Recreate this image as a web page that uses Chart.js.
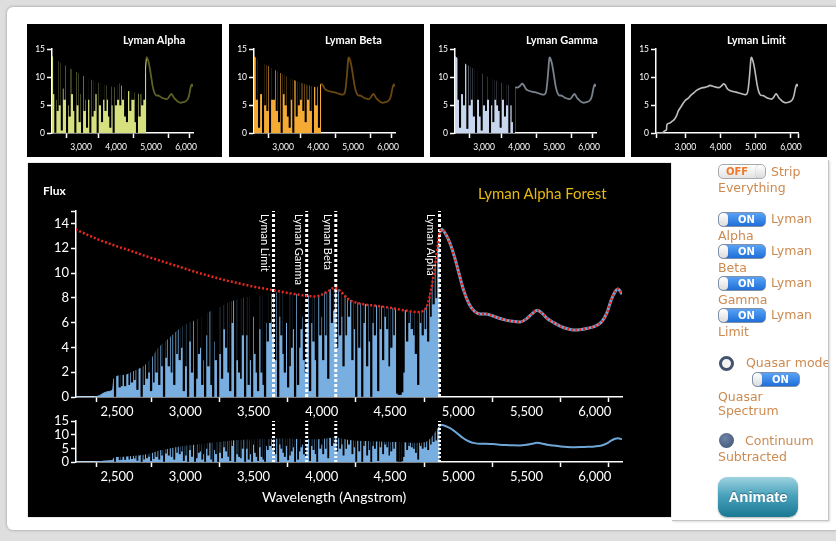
<!DOCTYPE html>
<html>
<head>
<meta charset="utf-8">
<script src="https://cdn.jsdelivr.net/npm/chart.js@4.4.0/dist/chart.umd.min.js"></script>
<style>
  body { margin: 0; width: 836px; height: 541px; overflow: hidden; position: relative; background: #dedede; font-family: Lato, sans-serif; }
  #card { position: absolute; left: 7px; top: 7px; width: 840px; height: 523px; background: #fff; border-radius: 6px; box-shadow: 0 0 3px rgba(0,0,0,.35); }
  .panel { position: absolute; background: #000; }
  .panel canvas { position: absolute; left: 0; }
  .ptitle { position: absolute; left: 96px; top: 8px; color: #fff; font: bold 11px Lato; line-height: 16px; white-space: nowrap; }
  .txt { position: absolute; white-space: nowrap; }
  #side { position: absolute; left: 672px; top: 160px; width: 156px; height: 360px; border-right: 1px solid #c4c4c4; border-bottom: 1px solid #c4c4c4; box-shadow: 1px 1px 2px rgba(0,0,0,.15); overflow: hidden; background: #fff; }
  .lbl { position: absolute; color: #cc8a50; font: 12.5px "DejaVu Sans"; line-height: 16px; white-space: nowrap; }
  .tg { position: absolute; width: 46px; height: 13px; border-radius: 5px; border: 1px solid #8090a8; overflow: hidden; }
  .tg.on { background: linear-gradient(#58a2f7, #1f6fd8); }
  .tg.off { background: linear-gradient(#ffffff, #e2e2e2); border-color: #a8a8a8; }
  .tg .k { position: absolute; top: 0; width: 9px; height: 13px; border-radius: 4px; background: linear-gradient(#ffffff, #dcdcdc); box-shadow: 0 0 1px #666; }
  .tg.on .k { left: 0; }
  .tg.off .k { right: 0; }
  .tg .t { position: absolute; top: 0; font: bold 10px "DejaVu Sans"; line-height: 13px; }
  .tg.on .t { left: 19px; color: #fff; }
  .tg.off .t { left: 7px; color: #f07828; }
  .radio { position: absolute; border-radius: 50%; box-sizing: border-box; }
  #animate { position: absolute; left: 46px; top: 317px; width: 80px; height: 40px; border-radius: 9px; background: linear-gradient(#9fd3e0, #4aa3bd 45%, #1a7893); color: #fff; font: bold 15px "Liberation Sans"; line-height: 40px; text-align: center; text-shadow: 0 -1px 1px rgba(0,0,0,.35); box-shadow: 0 1px 2px rgba(0,0,0,.3); }
</style>
</head>
<body>
<div id="card"></div>

<div class="panel" style="left:27px;top:24px;width:195px;height:133px"><canvas id="pAlpha" width="195" height="133"></canvas><div class="ptitle">Lyman Alpha</div></div>
<div class="panel" style="left:229px;top:24px;width:195px;height:133px"><canvas id="pBeta" width="195" height="133"></canvas><div class="ptitle">Lyman Beta</div></div>
<div class="panel" style="left:430px;top:24px;width:195px;height:133px"><canvas id="pGamma" width="195" height="133"></canvas><div class="ptitle">Lyman Gamma</div></div>
<div class="panel" style="left:631px;top:24px;width:196px;height:133px"><canvas id="pLimit" width="196" height="133"></canvas><div class="ptitle">Lyman Limit</div></div>

<div class="panel" style="left:28px;top:163px;width:643px;height:354px;box-shadow:0 0 1px #888">
  <canvas id="mainChart" width="643" height="260" style="top:0"></canvas>
  <canvas id="ctxChart" width="643" height="85" style="top:242px"></canvas>
  <div class="txt" style="left:15px;top:20px;color:#fff;font:bold 12px Lato;line-height:16px">Flux</div>
  <div class="txt" style="left:450px;top:21px;color:#e8b90e;font:15px Lato;line-height:18px">Lyman Alpha Forest</div>
  <div class="txt" style="left:234px;top:325px;color:#fff;font:14px Lato;line-height:18px">Wavelength (Angstrom)</div>
</div>

<div id="side">
  <div class="tg off" style="left:46px;top:4px"><span class="t">OFF</span><span class="k"></span></div>
  <div class="lbl" style="left:99px;top:4px">Strip</div>
  <div class="lbl" style="left:46px;top:20px">Everything</div>

  <div class="tg on" style="left:46px;top:52px"><span class="k"></span><span class="t">ON</span></div>
  <div class="lbl" style="left:99px;top:51px">Lyman</div>
  <div class="lbl" style="left:46px;top:68px">Alpha</div>
  <div class="tg on" style="left:46px;top:84px"><span class="k"></span><span class="t">ON</span></div>
  <div class="lbl" style="left:99px;top:83px">Lyman</div>
  <div class="lbl" style="left:46px;top:100px">Beta</div>
  <div class="tg on" style="left:46px;top:116px"><span class="k"></span><span class="t">ON</span></div>
  <div class="lbl" style="left:99px;top:115px">Lyman</div>
  <div class="lbl" style="left:46px;top:132px">Gamma</div>
  <div class="tg on" style="left:46px;top:148px"><span class="k"></span><span class="t">ON</span></div>
  <div class="lbl" style="left:99px;top:147px">Lyman</div>
  <div class="lbl" style="left:46px;top:164px">Limit</div>

  <div class="radio" style="left:47px;top:196px;width:15px;height:15px;border:3px solid #42546d;background:#f4f4f4"></div>
  <div class="lbl" style="left:74px;top:195px">Quasar mode</div>
  <div class="tg on" style="left:80px;top:212px"><span class="k"></span><span class="t">ON</span></div>
  <div class="lbl" style="left:46px;top:229px">Quasar</div>
  <div class="lbl" style="left:46px;top:243px">Spectrum</div>

  <div class="radio" style="left:47px;top:273px;width:15px;height:15px;background:radial-gradient(circle at 40% 35%, #6e84a6, #3d5070)"></div>
  <div class="lbl" style="left:73px;top:273px">Continuum</div>
  <div class="lbl" style="left:46px;top:289px">Subtracted</div>

  <div id="animate">Animate</div>
</div>

<script>
// intrinsic quasar continuum (red dotted line), wavelength in Angstrom
const contWave = [2170, 2200, 2300, 2400, 2500, 2600, 2700, 2800, 2900, 3000, 3100, 3200, 3300, 3400, 3500, 3600, 3700, 3800, 3900, 3950,
  4000, 4050, 4090, 4130, 4200, 4300, 4400, 4500, 4600, 4700, 4750, 4780, 4810, 4835, 4865, 4880, 4910, 4940, 4970, 5000,
  5040, 5080, 5120, 5160, 5200, 5250, 5300, 5350, 5400, 5450, 5500, 5540, 5580, 5610, 5650, 5700, 5750, 5800, 5850, 5900,
  5950, 6000, 6050, 6090, 6120, 6150, 6170, 6200];
const contFlux = [13.65, 13.5, 13.0, 12.55, 12.15, 11.8, 11.4, 11.05, 10.7, 10.35, 10.0, 9.7, 9.4, 9.15, 8.9, 8.7, 8.5, 8.3, 8.15, 8.1,
  8.25, 8.55, 8.8, 8.6, 7.85, 7.5, 7.35, 7.2, 7.0, 6.85, 7.0, 7.6, 9.2, 11.0, 13.3, 13.5, 13.1, 12.4, 11.4, 10.2,
  8.6, 7.5, 6.9, 6.7, 6.7, 6.55, 6.35, 6.2, 6.1, 6.05, 6.3, 6.7, 7.0, 6.8, 6.35, 6.0, 5.7, 5.5, 5.4, 5.45,
  5.55, 5.7, 6.05, 6.8, 7.8, 8.5, 8.7, 8.3];

// spectrum below the Lyman limit (attenuated), joins the continuum above 3650
const limitWave = [2170, 2330, 2370, 2400, 2440, 2468, 2478, 2550, 2630, 2700, 2760, 2800, 2870, 2950, 3000, 3100, 3170, 3250, 3320, 3440, 3550, 3640];
const limitFlux = [0, 0, 0.1, 0.3, 0.45, 0.6, 1.5, 1.75, 2.1, 2.5, 3.2, 3.9, 4.6, 5.4, 5.8, 6.3, 6.8, 7.2, 7.6, 8.0, 8.15, 8.3];

const lymanWave = [3647, 3890, 4103, 4863];
const lymanNames = ['Lyman Limit', 'Lyman Gamma', 'Lyman Beta', 'Lyman Alpha'];

// strong absorption lines in the main spectrum: wavelength and flux left at the bottom of the line
const mainDipWave = [2486, 2520, 2560, 2610, 2650, 2681, 2720, 2750, 2790, 2810, 2845, 2880, 2920, 2960, 2990, 3021, 3050, 3072, 3100, 3125,
  3146, 3170, 3205, 3225, 3241, 3270, 3300, 3330, 3366, 3395, 3420, 3439, 3465, 3490, 3512, 3534, 3560, 3585, 3605, 3622,
  3660, 3681, 3705, 3730, 3754, 3780, 3805, 3827, 3850, 3870, 3893, 3915, 3940, 3967, 3990, 4011, 4048, 4075, 4135, 4160,
  4200, 4225, 4253, 4275, 4297, 4333, 4363, 4390, 4414, 4450, 4480, 4510, 4553, 4565, 4578, 4590, 4600, 4626, 4660, 4690,
  4707, 4740, 4780, 4820];
const mainDipFlux = [0, 0.8, 0.9, 1.2, 0.6, 0, 1.5, 0.5, 2.0, 1.0, 0, 2.5, 1.0, 3.0, 0.5, 0, 2.0, 0, 3.5, 1.0,
  0, 2.5, 0, 3.0, 0, 1.5, 4.0, 0.5, 0, 2.0, 5.0, 0, 1.0, 0, 3.5, 0.5, 2.0, 0, 4.5, 6.0,
  3.0, 0, 5.0, 2.0, 0.8, 4.0, 0, 1.0, 5.5, 3.0, 6.0, 0.5, 4.5, 0, 5.0, 3.0, 1.5, 6.0, 5.0, 2.5,
  6.5, 3.0, 0, 4.0, 0, 2.5, 0, 5.0, 0.5, 3.0, 5.5, 4.0, 0.3, 0.2, 0.2, 0.4, 2.0, 4.5, 5.5, 3.5,
  1.0, 5.0, 4.5, 7.5];
// weaker, thinner lines in between
const mainWeakWave = [2535, 2590, 2630, 2700, 2735, 2770, 2830, 2860, 2900, 2940, 2975, 3005, 3035, 3085, 3112, 3135, 3158, 3190, 3215, 3255,
  3285, 3315, 3345, 3380, 3408, 3452, 3478, 3500, 3522, 3548, 3572, 3595, 3640, 3695, 3718, 3742, 3768, 3792, 3838, 3860,
  3882, 3928, 3955, 4000, 4030, 4090, 4115, 4150, 4180, 4240, 4310, 4350, 4375, 4430, 4465, 4495, 4530, 4640, 4675, 4725,
  4760, 4800, 4840];
const mainWeakFlux = [0.9, 1.0, 1.4, 1.0, 2.0, 1.2, 2.5, 3.2, 2.0, 3.5, 4.0, 2.5, 4.5, 1.5, 4.0, 3.0, 5.0, 1.0, 4.5, 3.5,
  5.5, 2.0, 6.0, 3.0, 1.5, 5.0, 3.0, 6.5, 2.0, 5.5, 1.0, 6.0, 5.0, 6.5, 3.5, 6.0, 2.5, 5.5, 4.0, 6.5,
  2.0, 6.0, 3.0, 6.5, 5.0, 7.0, 4.0, 6.5, 5.0, 5.5, 6.0, 4.5, 6.0, 5.5, 6.5, 2.5, 5.0, 6.0, 5.0, 6.0,
  5.5, 6.5, 8.0];

// absorption lines in the small panels
const alphaDipWave = [2230, 2266, 2300, 2330, 2390, 2450, 2490, 2530, 2600, 2640, 2676, 2750, 2800, 2837, 2900, 2960, 3000, 3028, 3100, 3140,
  3171, 3230, 3266, 3330, 3380, 3430, 3475, 3540, 3600, 3650, 3700, 3760, 3800, 3837, 3900, 3932, 4000, 4060, 4123, 4200,
  4260, 4313, 4408, 4460, 4500, 4560, 4599, 4675, 4750, 4800];
const alphaDipFlux = [7, 0, 6, 4, 5, 0.5, 8, 6, 0, 5, 3, 7, 4, 0, 5, 2, 7, 0, 4, 6,
  1, 6, 0, 3, 4, 7, 0, 5, 2, 6, 4, 6, 3, 1, 5, 0, 5, 6, 5, 6,
  3, 2, 4, 6, 6, 2, 0, 3, 5, 6];
const betaDipWave = [2250, 2314, 2370, 2428, 2490, 2552, 2628, 2690, 2742, 2820, 2885, 2961, 3020, 3075, 3140, 3190, 3240, 3294, 3390, 3450,
  3504, 3580, 3647, 3720, 3790, 3856, 3951, 4027];
const betaDipFlux = [6, 1, 7, 0, 5, 4, 0, 6, 6, 4, 2, 0, 7, 5, 3, 1, 6, 0, 3, 5,
  6, 4, 2, 6, 4, 0, 5, 1];
const gammaDipWave = [2270, 2314, 2370, 2428, 2523, 2590, 2647, 2710, 2771, 2830, 2885, 2933, 3000, 3056, 3120, 3171, 3220, 3266, 3320, 3380,
  3430, 3475, 3540, 3599, 3660, 3723, 3770, 3818, 3856];
const gammaDipFlux = [6, 1.0, 7, 5, 0.8, 5, 6, 3, 0, 6, 3, 0.5, 5, 4, 6, 0, 5, 2, 6, 5,
  4, 1, 6, 3, 5, 0, 5, 2, 0];

// where the coloured fill stops in the Alpha, Beta and Gamma panels
const panelFillEnd = [4865, 4090, 3900];

const mainXTicks = [2500, 3000, 3500, 4000, 4500, 5000, 5500, 6000];
const mainYTicks = [0, 2, 4, 6, 8, 10, 12, 14];
const ctxYTicks = [0, 5, 10, 15];
const smallXTicks = [3000, 4000, 5000, 6000];
const smallYTicks = [0, 5, 10, 15];

const TOP = 15;
const white = '#fff';
Chart.defaults.font.family = 'Lato';

const pts = (w, f) => w.map((x, i) => ({ x: x, y: f[i] }));
const cont = pts(contWave, contFlux);
const limitSpec = pts(limitWave, limitFlux).concat(cont.filter(p => p.x >= 3700));
const dips = (w, f) => w.map((x, i) => ({ x: x, y: [f[i], TOP] }));

function xAxis(min, max, tickVals, font, h, pad, tw) {
  return {
    type: 'linear', min: min, max: max, offset: false,
    grid: { display: true, drawOnChartArea: false, drawTicks: true, tickLength: 5, color: white, tickColor: white, tickWidth: tw },
    border: { display: true, color: white, width: tw },
    afterBuildTicks: s => { s.ticks = [min].concat(tickVals, [max]).map(v => ({ value: v })); },
    afterFit: s => { s.height = h; },
    ticks: { color: white, font: font, padding: pad, maxRotation: 0, autoSkip: false,
      callback: v => tickVals.includes(v) ? v.toLocaleString('en-US') : '' }
  };
}
function yAxis(max, tickVals, font, w, pad, tw) {
  const all = tickVals.includes(max) ? tickVals : tickVals.concat([max]);
  return {
    type: 'linear', min: 0, max: max,
    grid: { display: true, drawOnChartArea: false, drawTicks: true, tickLength: 5, color: white, tickColor: white, tickWidth: tw },
    border: { display: true, color: white, width: tw },
    afterBuildTicks: s => { s.ticks = all.map(v => ({ value: v })); },
    afterFit: s => { s.width = w; },
    ticks: { color: white, font: font, padding: pad, autoSkip: false,
      callback: v => tickVals.includes(v) ? String(v) : '' }
  };
}
const baseOpts = (padTop, padRight) => ({
  responsive: false, animation: false, events: [],
  layout: { padding: { top: padTop, right: padRight, left: 0, bottom: 0 } },
  plugins: { legend: { display: false }, tooltip: { enabled: false } },
  elements: { point: { radius: 0 } }
});

const lymanLabels = {
  id: 'lymanLabels',
  afterDatasetsDraw(chart) {
    const ctx = chart.ctx, x = chart.scales.x, y = chart.scales.y;
    ctx.save();
    ctx.fillStyle = white;
    ctx.font = '11px Lato';
    ctx.textBaseline = 'top';
    lymanNames.forEach((name, i) => {
      ctx.save();
      ctx.translate(x.getPixelForValue(lymanWave[i]) - 3, y.getPixelForValue(14.75));
      ctx.rotate(Math.PI / 2);
      ctx.fillText(name, 0, 0);
      ctx.restore();
    });
    ctx.restore();
  }
};

const lymanLines = (width, dash) => lymanWave.map(w => ({
  data: [{ x: w, y: 0 }, { x: w, y: TOP }], borderColor: white, borderWidth: width, borderDash: dash, order: 1
}));

// main spectrum
const blue = '#78afe0';
const specDatasets = (lineW, dipW, weakW) => [
  { data: limitSpec.filter(p => p.x >= 4865), borderColor: '#6fa6d8', borderWidth: lineW, cubicInterpolationMode: 'monotone', order: 2 },
  { type: 'bar', data: dips(mainDipWave, mainDipFlux), backgroundColor: '#000', barThickness: dipW, grouped: false, order: 3 },
  { type: 'bar', data: dips(mainWeakWave, mainWeakFlux), backgroundColor: '#000', barThickness: weakW, grouped: false, order: 3 },
  { data: limitSpec.filter(p => p.x <= 4865), borderColor: blue, backgroundColor: blue, borderWidth: 1, fill: 'origin', cubicInterpolationMode: 'monotone', order: 4 }
];

new Chart(document.getElementById('mainChart'), {
  type: 'line',
  data: {
    datasets: [
      { data: cont, borderColor: '#e8281e', borderWidth: 2.5, borderDash: [2, 2], cubicInterpolationMode: 'monotone', order: 0 },
      ...lymanLines(3, [3, 2]),
      ...specDatasets(3, 1.6, 1)
    ]
  },
  options: Object.assign(baseOpts(48, 49), {
    scales: {
      x: xAxis(2200, 6200, mainXTicks, { size: 13 }, 26, 2, 1.5),
      y: yAxis(TOP, mainYTicks, { size: 13 }, 48, 2, 1.5)
    }
  }),
  plugins: [lymanLabels]
});

// context strip below
new Chart(document.getElementById('ctxChart'), {
  type: 'line',
  data: {
    datasets: [
      ...lymanLines(3, [2, 2]),
      ...specDatasets(2, 1.2, 0.8)
    ]
  },
  options: Object.assign(baseOpts(16, 49), {
    scales: {
      x: xAxis(2200, 6200, mainXTicks, { size: 13 }, 28, 2, 1.5),
      y: yAxis(TOP, ctxYTicks, { size: 13 }, 48, 2, 1.5)
    }
  })
});

// small panels
function smallPanel(id, datasets) {
  new Chart(document.getElementById(id), {
    type: 'line',
    data: { datasets: datasets },
    options: Object.assign(baseOpts(25, 29), {
      scales: {
        x: xAxis(2170, 6200, smallXTicks, { size: 8.5 }, 24, 4, 1.5),
        y: yAxis(TOP, smallYTicks, { size: 8.5 }, 25, 2, 1.5)
      }
    })
  });
}
function forestPanel(id, fillColor, lineColor, end, dw, df) {
  smallPanel(id, [
    { data: cont.filter(p => p.x >= end), borderColor: lineColor, borderWidth: 1.8, cubicInterpolationMode: 'monotone', order: 1 },
    { type: 'bar', data: dips(dw, df), backgroundColor: '#000', barThickness: 1.4, grouped: false, order: 2 },
    { data: cont.filter(p => p.x <= end), borderColor: fillColor, backgroundColor: fillColor, borderWidth: 1, fill: 'origin', cubicInterpolationMode: 'monotone', order: 3 }
  ]);
}
forestPanel('pAlpha', '#d6e07e', '#5e6024', panelFillEnd[0], alphaDipWave, alphaDipFlux);
forestPanel('pBeta', '#f4aa33', '#6a4812', panelFillEnd[1], betaDipWave, betaDipFlux);
forestPanel('pGamma', '#c8d6ee', '#7a828e', panelFillEnd[2], gammaDipWave, gammaDipFlux);
smallPanel('pLimit', [
  { data: limitSpec, borderColor: '#bdbdbd', borderWidth: 1.6, cubicInterpolationMode: 'monotone' }
]);
</script>
</body>
</html>
